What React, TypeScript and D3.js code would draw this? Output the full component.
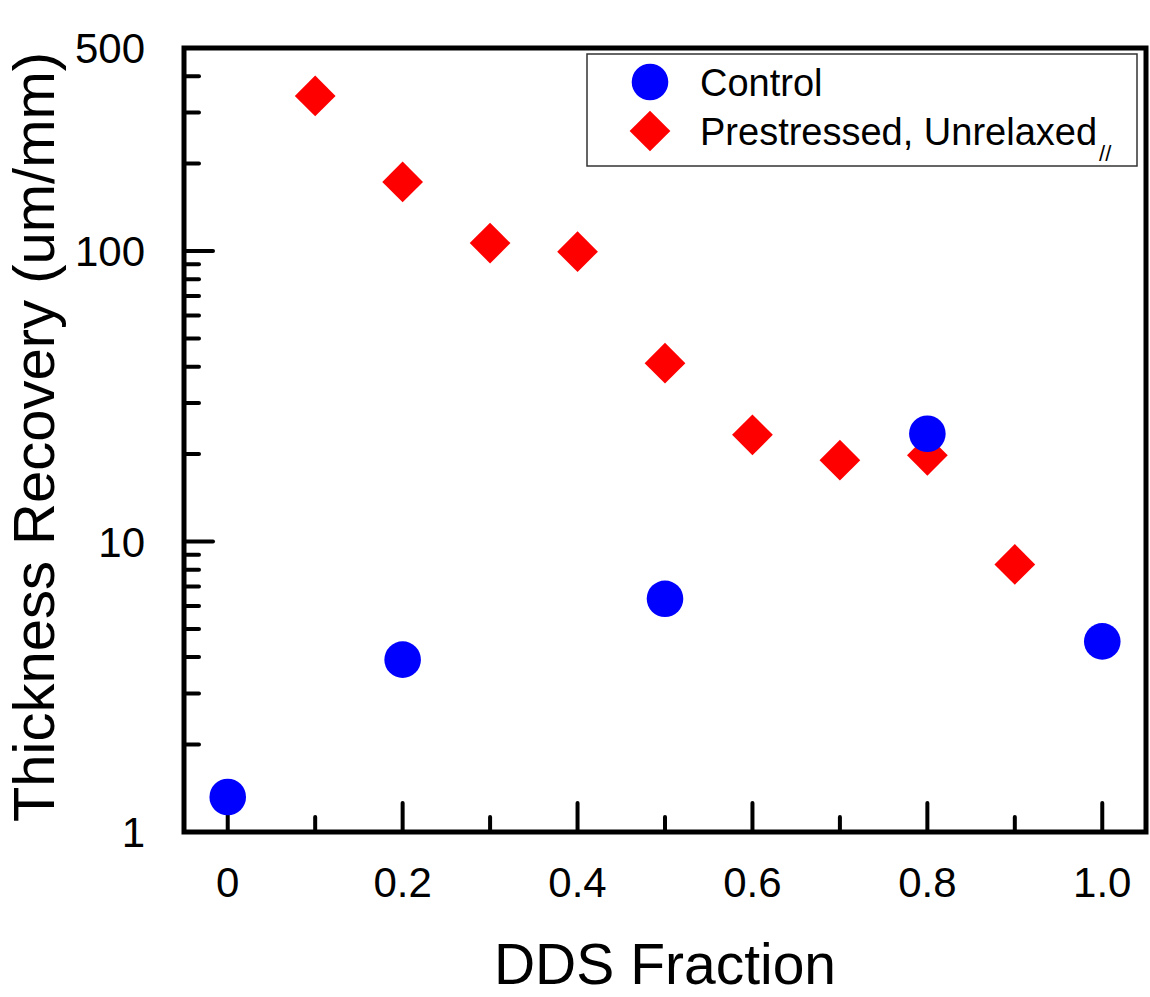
import React from "react";
import * as d3 from "d3";

const controlX = [0, 0.2, 0.5, 0.8, 1.0];
const controlY = [1.32, 3.92, 6.35, 23.5, 4.53];
const prestressX = [0.1, 0.2, 0.3, 0.4, 0.5, 0.6, 0.7, 0.8, 0.9];
const prestressY = [342, 173, 106.5, 99.5, 41.1, 23.3, 19.05, 19.8, 8.34];
const xMajorTicks = [0, 0.2, 0.4, 0.6, 0.8, 1.0];
const xMinorTicks = [0.1, 0.3, 0.5, 0.7, 0.9];
const xTickLabels = ["0", "0.2", "0.4", "0.6", "0.8", "1.0"];
const yMajorTicks = [1, 10, 100];
const yTickLabelValues = [1, 10, 100, 500];
const yTickLabels = ["1", "10", "100", "500"];
const yMinorTicks = [2, 3, 4, 5, 6, 7, 8, 9, 20, 30, 40, 50, 60, 70, 80, 90, 200, 300, 400];
const seriesNames = ["Control", "Prestressed, Unrelaxed"];

const W = 1150;
const H = 997;
const left = 184;
const right = 1146;
const top = 48;
const bottom = 832;
const font = "'Liberation Sans', Arial, sans-serif";

export default function App() {
  const x = d3.scaleLinear().domain([-0.05, 1.05]).range([left, right]);
  const y = d3.scaleLog().domain([1, 500]).range([bottom, top]);
  const diamond = d3.symbol().type(d3.symbolDiamond2).size(2 * 23 * 23)();
  const circleR = 18.3;

  return (
    <svg width={W} height={H} style={{ position: "absolute", left: 0, top: 0, background: "#fff" }}>
      <rect x={0} y={0} width={W} height={H} fill="#fff" />
      <g stroke="#000" strokeWidth={4} strokeLinecap="round">
        {xMajorTicks.map((t) => (
          <line key={"xM" + t} x1={x(t)} x2={x(t)} y1={bottom} y2={bottom - 29} />
        ))}
        {xMinorTicks.map((t) => (
          <line key={"xm" + t} x1={x(t)} x2={x(t)} y1={bottom} y2={bottom - 15} />
        ))}
        {yMajorTicks.map((t) => (
          <line key={"yM" + t} x1={left} x2={left + 29} y1={y(t)} y2={y(t)} />
        ))}
        {yMinorTicks.map((t) => (
          <line key={"ym" + t} x1={left} x2={left + 15} y1={y(t)} y2={y(t)} />
        ))}
      </g>
      {prestressX.map((v, i) => (
        <path key={"p" + i} d={diamond} transform={`translate(${x(v)},${y(prestressY[i])})`} fill="#ff0000" />
      ))}
      {controlX.map((v, i) => (
        <circle key={"c" + i} cx={x(v)} cy={y(controlY[i])} r={circleR} fill="#0000ff" />
      ))}
      <rect x={left} y={top} width={right - left} height={bottom - top} fill="none" stroke="#000" strokeWidth={5} />
      <g fontFamily={font} fontSize={42} fill="#000">
        {xMajorTicks.map((t, i) => (
          <text key={"xl" + t} x={x(t)} y={897} textAnchor="middle">
            {xTickLabels[i]}
          </text>
        ))}
        {yTickLabelValues.map((t, i) => (
          <text key={"yl" + t} x={145} y={y(t)} dy="0.36em" textAnchor="end">
            {yTickLabels[i]}
          </text>
        ))}
      </g>
      <text x={(left + right) / 2} y={984} textAnchor="middle" fontFamily={font} fontSize={57}>
        DDS Fraction
      </text>
      <text
        transform={`translate(54,${(top + bottom) / 2 - 3}) rotate(-90)`}
        textAnchor="middle"
        fontFamily={font}
        fontSize={58}
      >
        Thickness Recovery (um/mm)
      </text>
      <g>
        <rect x={587} y={54} width={550} height={112} fill="#fff" stroke="#333" strokeWidth={1.5} />
        <circle cx={650} cy={82} r={circleR} fill="#0000ff" />
        <path d={diamond} transform={`translate(650,131)`} fill="#ff0000" />
        <g fontFamily={font} fontSize={38} fill="#000">
          <text x={700} y={82} dy="0.36em">{seriesNames[0]}</text>
          <text x={700} y={131} dy="0.36em">
            {seriesNames[1]}
            <tspan fontSize={22} dx={2} dy="0.75em">//</tspan>
          </text>
        </g>
      </g>
    </svg>
  );
}
